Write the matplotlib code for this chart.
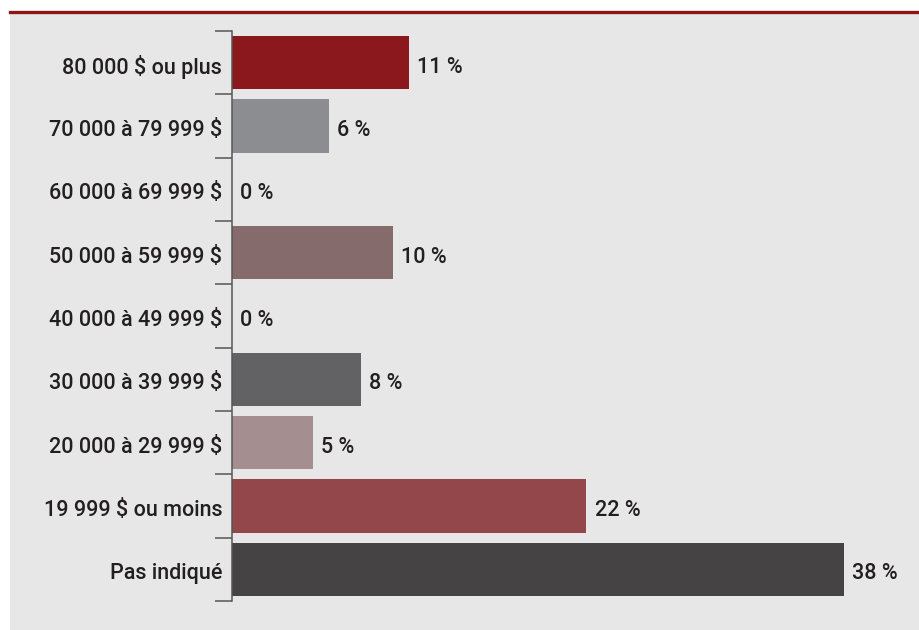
import matplotlib
matplotlib.use("Agg")
import matplotlib.pyplot as plt
import matplotlib.transforms as mtransforms
from matplotlib.patches import Rectangle
from matplotlib.lines import Line2D

categories = [
    "80 000 $ ou plus",
    "70 000 à 79 999 $",
    "60 000 à 69 999 $",
    "50 000 à 59 999 $",
    "40 000 à 49 999 $",
    "30 000 à 39 999 $",
    "20 000 à 29 999 $",
    "19 999 $ ou moins",
    "Pas indiqué",
]
values = [11, 6, 0, 10, 0, 8, 5, 22, 38]
bar_colors = ["#8a181c", "#8b8d90", "#8a1c1c", "#866b6d", "#8a1c1c",
              "#626264", "#a48e8f", "#93474a", "#454344"]

plt.rcParams["font.family"] = ["Roboto", "DejaVu Sans"]
FS = 15.5
WEIGHT = "medium"

W, H = 919, 630
fig = plt.figure(figsize=(W / 100, H / 100), dpi=100, facecolor="white")

# grey panel and red rule on top
fig.patches.append(Rectangle((10 / W, 0), 1 - 10 / W, 1 - 13 / H,
                             transform=fig.transFigure, facecolor="#e6e7e6",
                             edgecolor="none", zorder=-10))
fig.lines.append(Line2D([10 / W, 1], [1 - 11.5 / H, 1 - 11.5 / H],
                        transform=fig.transFigure, color="#8c1515", lw=2.4,
                        zorder=-5))

left, right = 232, 919
top, bottom = 31, 601
ax = fig.add_axes([left / W, 1 - bottom / H, (right - left) / W, (bottom - top) / H])
ax.set_facecolor("none")

n = len(categories)
ypos = list(range(n))
ax.barh(ypos, values, height=0.84, color=bar_colors, zorder=2)
ax.set_ylim(n - 0.5, -0.5)
ax.set_xlim(0, (right - left) / 16.1)

for y, v in zip(ypos, values):
    ax.annotate(f"{v} %", (v, y), xytext=(6, -1.5), textcoords="offset points",
                ha="left", va="center_baseline", fontsize=FS, fontweight=WEIGHT,
                color="#231f20")

# category labels centred on bars, tick marks on the boundaries
ax.set_yticks(ypos)
ax.set_yticklabels(categories, fontsize=FS, fontweight=WEIGHT, color="#231f20")
ax.tick_params(axis="y", which="major", length=0, pad=7)
shift = mtransforms.ScaledTranslation(0, -1.5 / 72, fig.dpi_scale_trans)
for lbl in ax.get_yticklabels():
    lbl.set_transform(lbl.get_transform() + shift)
ax.set_yticks([i - 0.5 for i in range(n + 1)], minor=True)
ax.tick_params(axis="y", which="minor", length=12.2, width=1.1, color="#555555")
ax.set_xticks([])
for s in ["top", "right", "bottom"]:
    ax.spines[s].set_visible(False)
ax.spines["left"].set_color("#555555")
ax.spines["left"].set_linewidth(1.1)

fig.savefig("out.png", dpi=100, facecolor="white")
